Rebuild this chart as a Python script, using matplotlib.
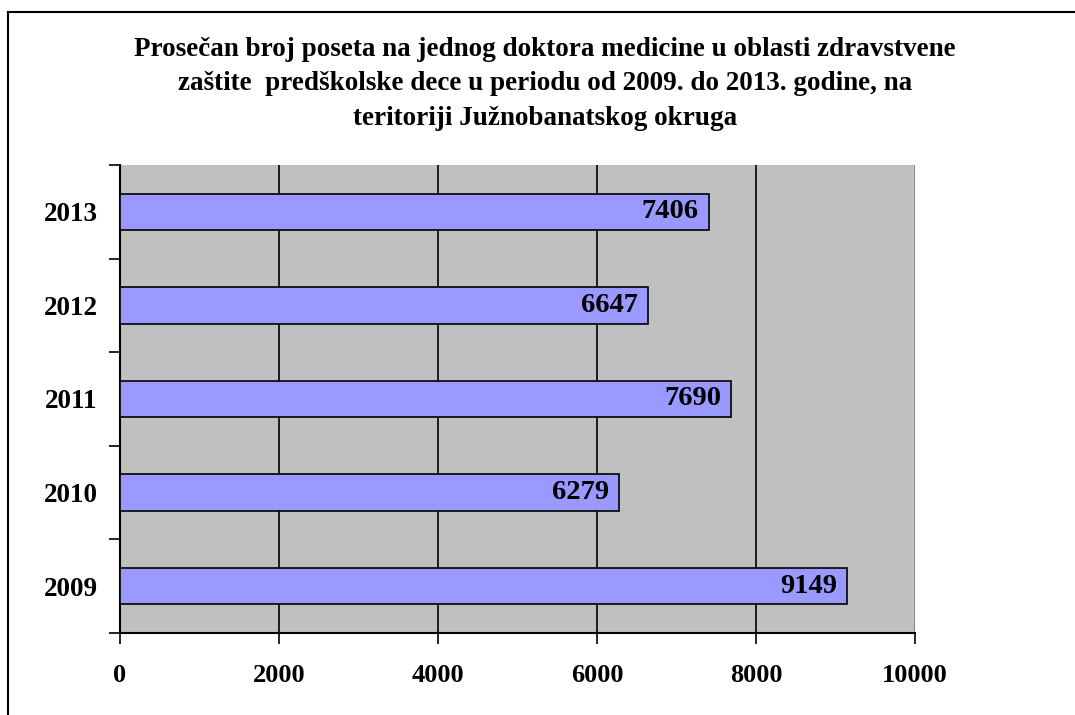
import matplotlib
matplotlib.use("Agg")
import matplotlib.pyplot as plt
from matplotlib.lines import Line2D
from matplotlib.ticker import FixedLocator, NullFormatter

# Data
years = ["2009", "2010", "2011", "2012", "2013"]
visits = [9149, 6279, 7690, 6647, 7406]
x_ticks = [0, 2000, 4000, 6000, 8000, 10000]
title = ("Prosečan broj poseta na jednog doktora medicine u oblasti zdravstvene\n"
         "zaštite  predškolske dece u periodu od 2009. do 2013. godine, na\n"
         "teritoriji Južnobanatskog okruga")

plt.rcParams['font.family'] = ['Liberation Serif', 'DejaVu Serif']
plt.rcParams['font.weight'] = 'bold'

fig = plt.figure(figsize=(10.75, 7.15), dpi=100)
ax = fig.add_axes([120/1075, 1 - 633/715, 795/1075, 468/715])
ax.set_facecolor("#C0C0C0")

pos = list(range(len(years)))
bars = ax.barh(pos, visits, height=0.39, color="#9999FF", edgecolor="black", linewidth=1.2, zorder=3)

# values inside the bar ends
for p, v in zip(pos, visits):
    ax.text(v - 125, p, str(v), ha="right", va="center", fontsize=20.5, fontweight="bold", zorder=4)

ax.set_xlim(0, 10000)
ax.set_ylim(-0.5, len(years) - 0.5)
ax.set_xticks(x_ticks)
ax.set_xticklabels([str(t) for t in x_ticks], fontsize=19, fontweight="bold")
ax.set_yticks(pos)
ax.set_yticklabels(years, fontsize=19.5, fontweight="bold")
ax.tick_params(axis="y", which="major", length=0, pad=16)
ax.yaxis.set_minor_locator(FixedLocator([p - 0.5 for p in pos] + [len(years) - 0.5]))
ax.yaxis.set_minor_formatter(NullFormatter())
ax.tick_params(axis="y", which="minor", length=8, width=1.2, color="black")
ax.tick_params(axis="x", length=8, width=1.2, pad=14)

# vertical gridlines
for t in x_ticks[1:-1]:
    ax.axvline(t, color="black", linewidth=1.2, zorder=1)
ax.axvline(10000, color="#808080", linewidth=1.2, zorder=1)

for s in ["top", "right"]:
    ax.spines[s].set_visible(False)
ax.spines["left"].set_linewidth(1.5)
ax.spines["bottom"].set_linewidth(1.5)

fig.text(545/1075, 1 - 84/715, title, ha="center", va="center", fontsize=19.5,
         fontweight="bold", linespacing=1.51)

# outer chart frame (only left and top edges fall inside the image)
fig.add_artist(Line2D([8/1075, 8/1075], [0, 1 - 12/715], color="black", linewidth=1.5, transform=fig.transFigure))
fig.add_artist(Line2D([8/1075, 1], [1 - 12/715, 1 - 12/715], color="black", linewidth=1.5, transform=fig.transFigure))

fig.savefig("out.png", dpi=100)
